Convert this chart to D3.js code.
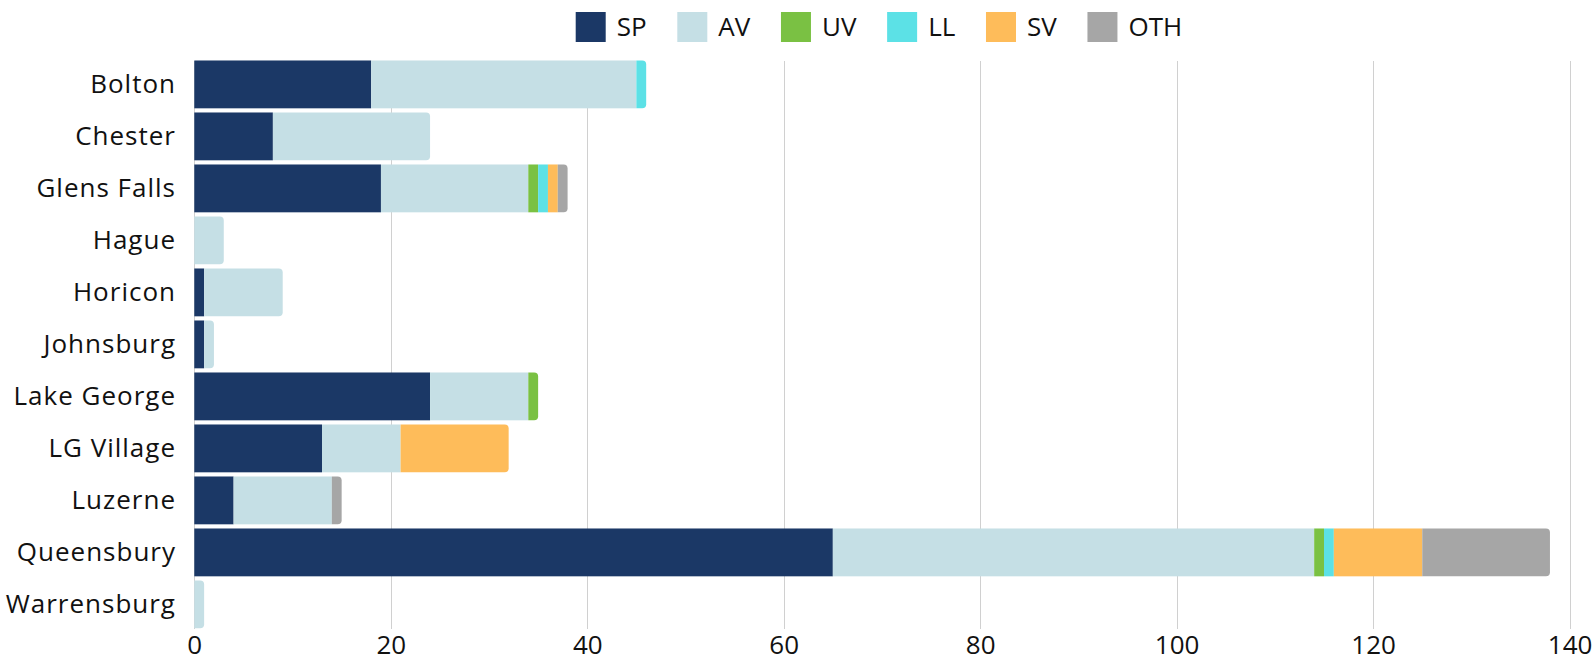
<!DOCTYPE html>
<html><head><meta charset="utf-8">
<script src="https://cdn.jsdelivr.net/npm/d3@7"></script>
<style>body{margin:0;background:#fff}svg{display:block}</style>
</head><body>
<svg id="c" width="1595" height="666"></svg>
<script>
const categories = ["Bolton","Chester","Glens Falls","Hague","Horicon","Johnsburg","Lake George","LG Village","Luzerne","Queensbury","Warrensburg"];
const seriesNames = ["SP","AV","UV","LL","SV","OTH"];
const SP  = [18, 8, 19, 0, 1, 1, 24, 13, 4, 65, 0];
const AV  = [27,16, 15, 3, 8, 1, 10,  8,10, 49, 1];
const UV  = [ 0, 0,  1, 0, 0, 0,  1,  0, 0,  1, 0];
const LL  = [ 1, 0,  1, 0, 0, 0,  0,  0, 0,  1, 0];
const SV  = [ 0, 0,  1, 0, 0, 0,  0, 11, 0,  9, 0];
const OTH = [ 0, 0,  1, 0, 0, 0,  0,  0, 1, 13, 0];
const xTicks = [0,20,40,60,80,100,120,140];
const colors = ["#1B3866","#C5DFE5","#7AC143","#5CE1E6","#FEBC5A","#A6A6A6"];

const seriesVals = [SP,AV,UV,LL,SV,OTH];
const rows = categories.map((c,i)=>{const o={cat:c}; seriesNames.forEach((s,j)=>o[s]=seriesVals[j][i]); return o;});
const stack = d3.stack().keys(seriesNames)(rows);

const font = "'Open Sans', 'Noto Sans', sans-serif";
const fs = 26;
const svg = d3.select("#c");
const mLeft = 194.3, mRight = 1569.6, mTop = 58.4, mBottom = 630.4;
const x = d3.scaleLinear().domain([0,140]).range([mLeft,mRight]);
const y = d3.scaleBand().domain(categories).range([mTop,mBottom]).paddingInner(0.08).paddingOuter(0.04);

// grid
svg.append("g").selectAll("line").data(xTicks).join("line")
  .attr("x1",d=>Math.round(x(d))+0.5).attr("x2",d=>Math.round(x(d))+0.5)
  .attr("y1",61).attr("y2",629).attr("stroke","#d0d0d0").attr("stroke-width",1);

// last nonzero series per row
const lastIdx = rows.map(r=>{let k=-1; seriesNames.forEach((s,j)=>{if(r[s]>0)k=j;}); return k;});
const rad = 4;
stack.forEach((layer,j)=>{
  const g = svg.append("g").attr("fill",colors[j]);
  layer.forEach((d,i)=>{
    if(d[1]-d[0]<=0) return;
    const x0=x(d[0]), x1=x(d[1]), y0=y(categories[i]), h=y.bandwidth();
    if(lastIdx[i]===j){
      const r=Math.min(rad,(x1-x0));
      g.append("path").attr("d",`M${x0},${y0}H${x1-r}Q${x1},${y0} ${x1},${y0+r}V${y0+h-r}Q${x1},${y0+h} ${x1-r},${y0+h}H${x0}Z`);
    } else {
      g.append("rect").attr("x",x0).attr("y",y0).attr("width",x1-x0).attr("height",h);
    }
  });
});

// y labels
svg.append("g").selectAll("text").data(categories).join("text")
  .attr("x",176).attr("y",d=>y(d)+y.bandwidth()/2).attr("dy","0.33em")
  .attr("text-anchor","end").attr("font-family",font).attr("font-size",fs).attr("fill","#111")
  .attr("letter-spacing","1px")
  .text(d=>d);

// x axis labels
const xAxis = d3.axisBottom(x).tickValues(xTicks).tickSize(0).tickPadding(0);
const ax = svg.append("g").attr("transform","translate(0,645)").call(xAxis);
ax.select(".domain").remove();
ax.selectAll("text").attr("font-family",font).attr("font-size",fs).attr("fill","#111").attr("dy","0.35em").attr("y",0);

// legend
const leg = svg.append("g").attr("transform","translate(575.7,0)");
let cx = 0;
seriesNames.forEach((s,j)=>{
  const gi = leg.append("g");
  gi.append("rect").attr("x",0).attr("y",12).attr("width",30).attr("height",30).attr("fill",colors[j]);
  const t = gi.append("text").attr("x",41).attr("y",27).attr("dy","0.35em").attr("font-family",font).attr("font-size",fs).attr("fill","#111").text(s);
  const w = t.node().getComputedTextLength();
  gi.attr("transform",`translate(${cx},0)`);
  cx += 41 + w + 30.7;
});
</script>
</body></html>
